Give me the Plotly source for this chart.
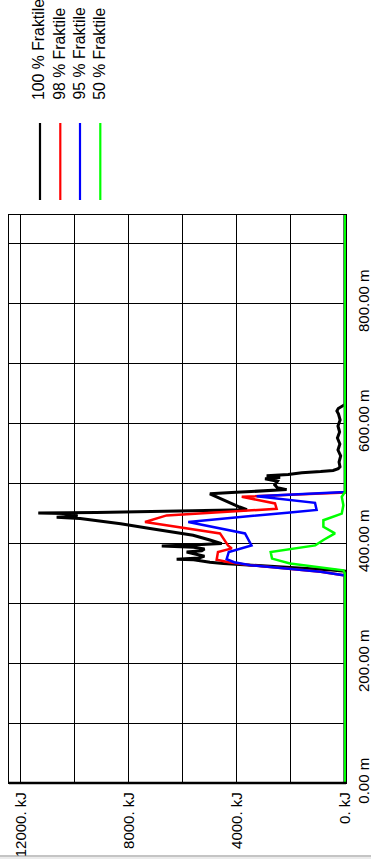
import plotly.graph_objects as go

# Fractile curves: distance along the axis (m) and energy (kJ)
dist_100 = [0, 353, 355, 358, 361, 363, 366, 368, 370, 372, 373, 375, 378, 381, 385, 387, 390, 393, 395,
            397, 399, 405, 413, 424, 432, 441, 443, 445, 447, 449, 450, 451, 453, 455.5, 460, 468, 476,
            482, 484, 487, 489, 492, 497, 503, 507, 509, 512, 514, 517, 519, 521, 524, 527, 535, 545,
            555, 565, 575, 585, 595, 605, 615, 620, 624, 628, 631, 947]
energy_100 = [0, 0, 500, 1700, 2900, 3500, 4500, 5000, 5300, 5600, 6230, 5400, 5200, 5500, 5860, 5300,
              5200, 5600, 6780, 5500, 4560, 5000, 5620, 7215, 8300, 9800, 10670, 9900, 10000, 10400,
              11350, 9200, 7200, 3630, 3900, 4300, 4700, 5000, 4200, 2700, 2160, 2500, 2600, 2500,
              2960, 2400, 2900, 2100, 1600, 900, 440, 250, 185, 220, 160, 260, 190, 280, 200, 260,
              180, 240, 300, 250, 120, 0, 0]

dist_98 = [0, 346, 352, 358, 363, 368, 372, 385, 391, 396, 416, 435, 446, 457, 466, 477, 484, 947]
energy_98 = [0, 0, 900, 2200, 3500, 4300, 4750, 4700, 4190, 4330, 4625, 7400, 6600, 2530, 2590,
             3820, 0, 0]

dist_95 = [0, 346, 352, 358, 363, 368, 373, 385, 393, 396, 416, 435, 451, 455, 467, 478, 485, 947]
energy_95 = [0, 0, 900, 2200, 3500, 4100, 4380, 4300, 3640, 3460, 3700, 5800, 2035, 1050, 1110,
             3270, 0, 0]

dist_50 = [0, 349, 354.5, 366, 374, 385, 396, 405, 416, 427, 438, 449, 463, 477, 485, 947]
energy_50 = [0, 0, 60, 2035, 2700, 2750, 1100, 800, 370, 800, 800, 120, 60, 120, 0, 0]

series_names = ["100 % Fraktile", "98 % Fraktile", "95 % Fraktile", "50 % Fraktile"]
series_colors = ["#000000", "#ff0000", "#0000ff", "#00ff00"]
series_widths = [3.0, 2.5, 2.5, 2.5]

energy_ticks = [0, 2000, 4000, 6000, 8000, 10000, 12000]
energy_labels = ["0. kJ", "", "4000. kJ", "", "8000. kJ", "", "12000. kJ"]
dist_ticks = [0, 100, 200, 300, 400, 500, 600, 700, 800, 900]
dist_labels = ["0.00 m", "", "200.00 m", "", "400.00 m", "", "600.00 m", "", "800.00 m", ""]

FONT = "Liberation Sans, Arial, sans-serif"

# page geometry (pixels)
W, H = 371, 861
L, R, T, B = 9, 25, 215, 78
PW, PH = W - L - R, H - T - B


def px_x(px):
    return (px - L) / PW


def px_y(py):
    return (H - B - py) / PH


fig = go.Figure()
data = [(energy_100, dist_100), (energy_98, dist_98), (energy_95, dist_95), (energy_50, dist_50)]
for (e, d), name, col, lw in zip(data, series_names, series_colors, series_widths):
    fig.add_trace(go.Scatter(x=e, y=d, mode="lines", name=name,
                             line=dict(color=col, width=lw), hoverinfo="skip"))

shapes = []
annotations = []
legend_x = [40, 60.3, 80, 100.3]
for i, (name, col) in enumerate(zip(series_names, series_colors)):
    shapes.append(dict(type="line", xref="paper", yref="paper",
                       x0=px_x(legend_x[i]), x1=px_x(legend_x[i]),
                       y0=px_y(200), y1=px_y(123),
                       line=dict(color=col, width=2.2)))
    annotations.append(dict(xref="paper", yref="paper", x=px_x(legend_x[i] - 1.5), y=px_y(102),
                            text=name, showarrow=False, textangle=-90,
                            xanchor="center", yanchor="bottom",
                            font=dict(family=FONT, size=15.8, color="black")))

# thicker bottom frame edge
shapes.append(dict(type="line", xref="paper", yref="paper", x0=0, x1=1, y0=0, y1=0,
                   line=dict(color="black", width=2.5)))
# window border at the foot of the page
shapes.append(dict(type="line", xref="paper", yref="paper", x0=px_x(0), x1=px_x(W),
                   y0=px_y(856), y1=px_y(856), line=dict(color="#8a8a8a", width=1.2)))
shapes.append(dict(type="line", xref="paper", yref="paper", x0=px_x(0), x1=px_x(W),
                   y0=px_y(858), y1=px_y(858), line=dict(color="#d8d8d8", width=1.2)))

fig.update_layout(
    width=W, height=H,
    margin=dict(l=L, r=R, t=T, b=B, pad=0, autoexpand=False),
    paper_bgcolor="white", plot_bgcolor="white",
    showlegend=False,
    shapes=shapes, annotations=annotations,
    font=dict(family=FONT, size=15, color="black"),
    xaxis=dict(range=[12433, -37], tickmode="array", tickvals=energy_ticks, ticktext=energy_labels,
               tickangle=-90, showgrid=True, gridcolor="black", gridwidth=1.2, zeroline=False,
               showline=True, mirror=True, linecolor="black", linewidth=1.4, ticks="",
               ticklabelstandoff=2, automargin=False,
               layer="below traces", tickfont=dict(family=FONT, size=15)),
    yaxis=dict(range=[0, PH / 0.6], tickmode="array", tickvals=dist_ticks, ticktext=dist_labels,
               tickangle=-90, side="right", showgrid=True, gridcolor="black", gridwidth=1.2,
               zeroline=False, showline=True, mirror=True, linecolor="black", linewidth=1.4,
               ticks="", ticklabelstandoff=4, automargin=False,
               layer="below traces", tickfont=dict(family=FONT, size=15)),
)

fig.write_html("out.html")
